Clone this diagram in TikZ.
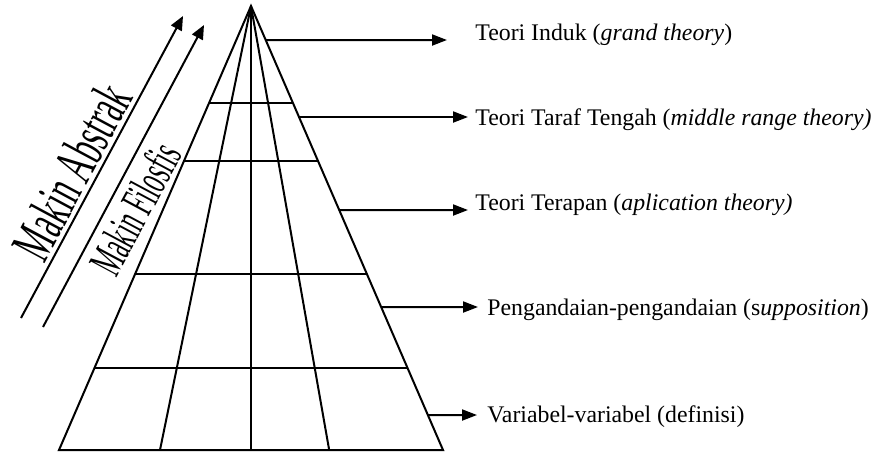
\documentclass[tikz,border=0pt]{standalone}
\usepackage{fontspec}
\setmainfont{Liberation Serif}
\usetikzlibrary{arrows.meta,calc}
\begin{document}
\begin{tikzpicture}[x=0.5pt,y=-0.5pt,
  ln/.style={line width=1pt},
  rarr/.style={line width=1pt,-{Triangle[length=7.5pt,width=5.5pt]}},
  larr/.style={line width=1pt,-{Triangle[length=7pt,width=6pt]}},
  lbl/.style={anchor=base west,inner sep=0pt,font=\fontsize{11.9}{14}\selectfont},
  bigtxt/.style={anchor=center,inner sep=0pt,rotate=61.8}]
\useasboundingbox (0,0) rectangle (888,452);
% pyramid
\coordinate (apex) at (251,6);
\coordinate (bl) at (59,450);
\coordinate (br) at (443,450);
\coordinate (bil) at (160,450);
\coordinate (bc) at (251,450);
\coordinate (bir) at (329,449);
\draw[ln] (bl) -- (apex) -- (br) -- cycle;
\draw[ln] (apex) -- (bil);
\draw[ln] (apex) -- (bc);
\draw[ln] (apex) -- (bir);
% horizontal rungs
\foreach \yy [count=\i] in {103,161,274,368}{
  \pgfmathsetmacro{\tt}{(\yy-6)/444}
  \coordinate (hl\i) at ($(apex)!\tt!(bl)$);
  \coordinate (hr\i) at ($(apex)!\tt!(br)$);
  \draw[ln] (hl\i) -- (hr\i);
}
% label arrows
\coordinate (s1) at ($(apex)!{(40-6)/444}!(br)$);
\coordinate (s2) at ($(apex)!{(117-6)/444}!(br)$);
\coordinate (s3) at ($(apex)!{(210-6)/444}!(br)$);
\coordinate (s4) at ($(apex)!{(307-6)/444}!(br)$);
\coordinate (s5) at ($(apex)!{(415-6)/444}!(br)$);
\coordinate (e1) at (447,40);
\coordinate (e2) at (468,117);
\coordinate (e3) at (468,210);
\coordinate (e4) at (478,307);
\coordinate (e5) at (477,415);
\draw[rarr] (s1) -- (e1);
\draw[rarr] (s2) -- (e2);
\draw[rarr] (s3) -- (e3);
\draw[rarr] (s4) -- (e4);
\draw[rarr] (s5) -- (e5);
\node[lbl] (t1) at (475,40) {Teori Induk (\textit{grand theory})};
\node[lbl] (t2) at (475,125) {Teori Taraf Tengah (\textit{middle range theory)}};
\node[lbl] (t3) at (475,210) {Teori Terapan (\textit{aplication theory)}};
\node[lbl] (t4) at (487,315) {Pengandaian-pengandaian (s\textit{upposition})};
\node[lbl] (t5) at (487,422) {Variabel-variabel (definisi)};
% left arrows
\coordinate (a1s) at (21,318);
\coordinate (a1e) at (183,16);
\coordinate (a2s) at (43,327);
\coordinate (a2e) at (204,25);
\draw[larr] (a1s) -- (a1e);
\draw[larr] (a2s) -- (a2e);
\node[bigtxt] (ma) at (71.5,171.5) {\scalebox{0.54}[1]{\fontsize{29}{32}\selectfont Makin Abstrak}};
\node[bigtxt] (mf) at (135,208.5) {\scalebox{0.5}[1]{\fontsize{24}{27}\selectfont Makin Filosfis}};
\end{tikzpicture}
\end{document}
